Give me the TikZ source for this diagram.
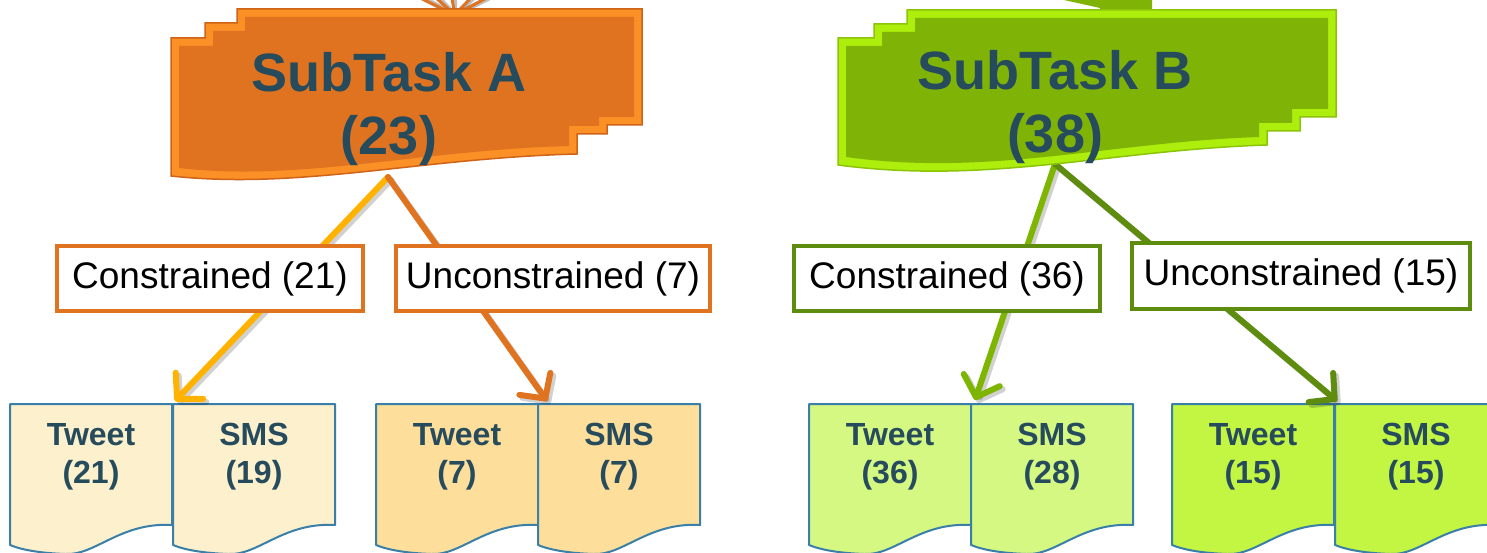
\documentclass[tikz,border=0pt]{standalone}
\usepackage{fontspec}
\setmainfont{Liberation Sans}
\usetikzlibrary{arrows.meta}
\definecolor{txt}{HTML}{264B5D}
\definecolor{orgmain}{HTML}{E07320}
\definecolor{orgbevel}{HTML}{FB9026}
\definecolor{orgline}{HTML}{CF6318}
\definecolor{amber}{HTML}{FFB300}
\definecolor{grnmain}{HTML}{7FB406}
\definecolor{grnbevel}{HTML}{ADEE0C}
\definecolor{grnline}{HTML}{8CC40A}
\definecolor{grnarrow}{HTML}{7DB500}
\definecolor{olive}{HTML}{5E8C0F}
\definecolor{docblue}{HTML}{3A7FA8}
\definecolor{docA}{HTML}{FDF0CC}
\definecolor{docB}{HTML}{FDDE9A}
\definecolor{docC}{HTML}{D5F883}
\definecolor{docD}{HTML}{C3F543}
\tikzset{
  lbl/.style={draw=#1, line width=4pt, fill=white, minimum height=65pt, inner sep=0pt,
    font=\fontsize{37}{40}\selectfont, text=black},
  doctxt/.style={font=\fontsize{32}{38}\selectfont\bfseries, text=txt, align=center},
  titletxt/.style={font=\fontsize{54}{63}\selectfont\bfseries, text=txt, align=center},
  docline/.style={draw=docblue, line width=2pt, line join=round},
  conn/.style={line width=6pt, draw=#1, line cap=round,
    -{Straight Barb[length=18pt,width=38pt,round]}},
  connshadow/.style={line width=6pt, draw=black, draw opacity=0.18, line cap=round,
    -{Straight Barb[length=18pt,width=38pt,round]}, transform canvas={shift={(3pt,-3pt)}}},
}
\newcommand\mydoc[4]{%
  \draw[docline, fill=#3] (#2,404) -- (#2+162,404) -- (#2+162,525)
    .. controls (#2+110,522) and (#2+85,556) .. (#2+55,554)
    .. controls (#2+30,553) and (#2+12,550) .. (#2,545) -- cycle;
  \node[doctxt] (#1) at (#2+81,457) {#4};
}
\begin{document}
\begin{tikzpicture}[x=1pt,y=-1pt]
\useasboundingbox (0,0) rectangle (1487,553);
\clip (0,0) rectangle (1487,553);
\fill[white] (0,0) rectangle (1487,553);

% incoming arrow heads at the top
\coordinate (Ain) at (455,15);
\coordinate (Bin) at (1102,18);
\foreach \sx in {400,425,450,480,505} {
  \draw[line width=5pt, draw=black, draw opacity=0.25] (\sx+4,-12) -- (Ain);
  \draw[line width=3pt, draw=orgmain] (\sx,-12) -- (Ain);
}
\fill[grnmain] (1055,-2) -- (1152,-2) -- (1152,10) -- (Bin) -- (1100,8) -- cycle;

% documents
\mydoc{tA}{10}{docA}{Tweet\\(21)}
\mydoc{sA}{173}{docA}{SMS\\(19)}
\mydoc{tB}{376}{docB}{Tweet\\(7)}
\mydoc{sB}{538}{docB}{SMS\\(7)}
\mydoc{tC}{809}{docC}{Tweet\\(36)}
\mydoc{sC}{971}{docC}{SMS\\(28)}
\mydoc{tD}{1172}{docD}{Tweet\\(15)}
\mydoc{sD}{1335}{docD}{SMS\\(15)}

% arrow anchor points
\coordinate (Abot) at (388,177);
\coordinate (Bbot) at (1055,164);
\coordinate (Atip1) at (175,401);
\coordinate (Atip2) at (547,401);
\coordinate (Btip1) at (975,400);
\coordinate (Btip2) at (1337,401);

% connectors
\draw[connshadow] (Abot) -- (Atip1);
\draw[connshadow] (Abot) -- (Atip2);
\draw[connshadow] (Bbot) -- (Btip1);
\draw[connshadow] (Bbot) -- (Btip2);
\draw[conn=amber] (Abot) -- (Atip1);
\draw[conn=orgmain] (Abot) -- (Atip2);
\draw[conn=grnarrow] (Bbot) -- (Btip1);
\draw[conn=olive] (Bbot) -- (Btip2);

% label boxes
\node[lbl=orgmain, minimum width=306pt] (cA) at (210,278.5) {Constrained (21)};
\node[lbl=orgmain, minimum width=314pt] (uA) at (553,278.5) {Unconstrained (7)};
\node[lbl=olive, minimum width=306pt] (cB) at (947,278.5) {Constrained (36)};
\node[lbl=olive, minimum width=338pt] (uB) at (1301,276) {Unconstrained (15)};

% SubTask A shape
\draw[fill=orgbevel, draw=orgline, line width=1.5pt, line join=miter]
  (171,38) -- (205,38) -- (205,23) -- (237,23) -- (237,9) -- (642,9) -- (642,125)
  -- (607,125) -- (607,134) -- (577,134) -- (577,154)
  .. controls (420,158) and (300,190) .. (171,176) -- cycle;
\fill[orgmain]
  (179,46) -- (213,46) -- (213,31) -- (245,31) -- (245,17) -- (634,17) -- (634,117)
  -- (599,117) -- (599,126) -- (569,126) -- (569,146)
  .. controls (420,150) and (300,182) .. (179,168) -- cycle;
\node[titletxt] (stA) at (389,109.5) {SubTask A\\(23)};

% SubTask B shape
\draw[fill=grnbevel, draw=grnline, line width=1.5pt, line join=miter]
  (838,38) -- (874,38) -- (874,24) -- (907,24) -- (907,10) -- (1336,10) -- (1336,117)
  -- (1300,117) -- (1300,131) -- (1267,131) -- (1267,145)
  .. controls (1110,150) and (990,185) .. (838,165) -- cycle;
\fill[grnmain]
  (846,46) -- (882,46) -- (882,32) -- (915,32) -- (915,18) -- (1328,18) -- (1328,109)
  -- (1292,109) -- (1292,123) -- (1259,123) -- (1259,137)
  .. controls (1110,142) and (990,177) .. (846,157) -- cycle;
\node[titletxt] (stB) at (1055,107.5) {SubTask B\\(38)};
\end{tikzpicture}
\end{document}
